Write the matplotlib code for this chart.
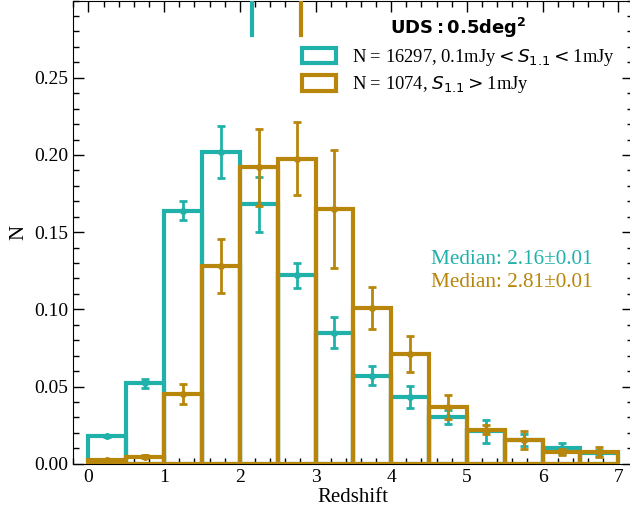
import numpy as np
import matplotlib
matplotlib.use("Agg")
import matplotlib.pyplot as plt
from matplotlib.ticker import MultipleLocator
from matplotlib.patches import Patch

plt.rcParams['font.family'] = ['Liberation Serif', 'DejaVu Serif']
plt.rcParams['mathtext.fontset'] = 'dejavusans'

# Redshift bins (left edges) and bin width
bin_left = [0.0, 0.5, 1.0, 1.5, 2.0, 2.5, 3.0, 3.5, 4.0, 4.5, 5.0, 5.5, 6.0, 6.5]
bin_width = 0.5

# Faint sample: 0.1 mJy < S1.1 < 1 mJy
faint_frac = [0.018, 0.052, 0.164, 0.202, 0.168, 0.122, 0.085, 0.057,
              0.043, 0.030, 0.021, 0.0152, 0.010, 0.0072]
faint_err = [0.0008, 0.003, 0.0063, 0.017, 0.018, 0.0083, 0.010, 0.006,
             0.0072, 0.0045, 0.0073, 0.004, 0.0037, 0.002]

# Bright sample: S1.1 > 1 mJy
bright_frac = [0.0024, 0.0045, 0.045, 0.128, 0.192, 0.1975, 0.165, 0.101,
               0.071, 0.037, 0.022, 0.0153, 0.0075, 0.0074]
bright_err = [0.0008, 0.001, 0.0065, 0.0177, 0.025, 0.0237, 0.038, 0.0138,
              0.0115, 0.0078, 0.003, 0.0058, 0.002, 0.0032]

medians = [2.16, 2.81]
median_err = [0.01, 0.01]
counts = [16297, 1074]

c_faint = '#20B2AA'
c_bright = '#B8860B'

fig = plt.figure(figsize=(6.3, 5.18), dpi=100)
ax = fig.add_axes([0.1164, 0.1048, 0.889, 0.894])

centers = np.asarray(bin_left) + bin_width / 2

ax.bar(bin_left, faint_frac, width=bin_width, align='edge', fill=False,
       edgecolor=c_faint, linewidth=3, zorder=2)
ax.errorbar(centers, faint_frac, yerr=faint_err, fmt='o', color=c_faint,
            ms=4, elinewidth=2, capsize=3, capthick=2, zorder=3)
ax.bar(bin_left, bright_frac, width=bin_width, align='edge', fill=False,
       edgecolor=c_bright, linewidth=3, zorder=4)
ax.errorbar(centers, bright_frac, yerr=bright_err, fmt='o', color=c_bright,
            ms=4, elinewidth=2, capsize=3, capthick=2, zorder=5)

# Median markers along the top edge
for m, c in zip(medians, [c_faint, c_bright]):
    ax.axvline(m, ymin=0.926, ymax=1.0, color=c, linewidth=3, zorder=5)

ax.text(4.52, 0.1293, f"Median: {medians[0]:.2f}\u00b1{median_err[0]:.2f}",
        color=c_faint, fontsize=15.3, va='baseline', ha='left')
ax.text(4.52, 0.1145, f"Median: {medians[1]:.2f}\u00b1{median_err[1]:.2f}",
        color=c_bright, fontsize=15.3, va='baseline', ha='left')

ax.set_xlim(-0.2, 7.2)
ax.set_ylim(0, 0.3)
ax.set_xticks(range(0, 8))
ax.set_yticks([0.0, 0.05, 0.10, 0.15, 0.20, 0.25])
ax.set_yticklabels(['0.00', '0.05', '0.10', '0.15', '0.20', '0.25'])
ax.xaxis.set_minor_locator(MultipleLocator(0.2))
ax.yaxis.set_minor_locator(MultipleLocator(0.01))
ax.tick_params(which='both', direction='in', top=True, right=True,
               labelsize=14)
ax.tick_params(which='major', length=8, width=1)
ax.tick_params(which='minor', length=4.5, width=1)

ax.set_xlabel('Redshift', fontsize=15, labelpad=2)
ax.set_ylabel('N', fontsize=15, labelpad=4)

handles = [Patch(facecolor='none', edgecolor=c_faint, linewidth=3),
           Patch(facecolor='none', edgecolor=c_bright, linewidth=3)]
labels = [f"N = {counts[0]}, 0.1mJy$<S_{{1.1}}<$1mJy",
          f"N = {counts[1]}, $S_{{1.1}}>$1mJy"]
leg = ax.legend(handles, labels, loc='upper right',
                bbox_to_anchor=(0.996, 1.002), frameon=False, fontsize=13.3,
                title=r'$\mathbf{UDS:0.5deg^2}$', title_fontsize=13,
                handlelength=1.85, handleheight=0.9, handletextpad=0.85,
                labelspacing=0.35)

fig.savefig('out.png', dpi=100)
